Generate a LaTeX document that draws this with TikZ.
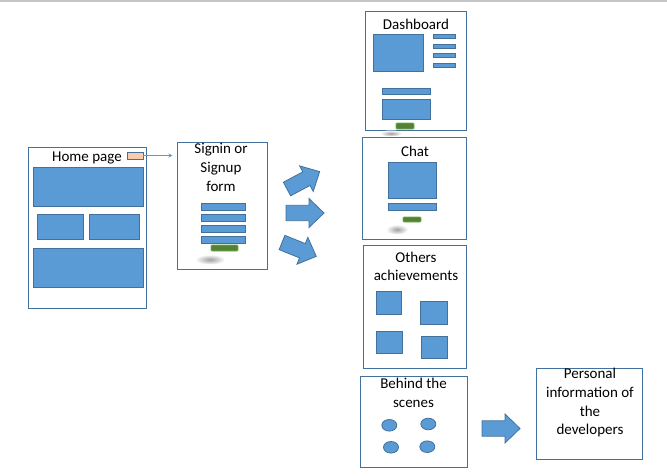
\documentclass[tikz,border=0pt]{standalone}
\usepackage{fontspec}
\setmainfont{Carlito}
\usetikzlibrary{arrows.meta,shapes.geometric}
\definecolor{mblue}{HTML}{5B9BD5}
\definecolor{mborder}{HTML}{41719C}
\definecolor{mgreen}{HTML}{548235}
\definecolor{mlgreen}{HTML}{70AD47}
\definecolor{mpeach}{HTML}{F8CBAD}
\tikzset{
  frame/.style={draw=mborder, line width=1.0, fill=white},
  blk/.style={draw=mborder, line width=0.8, fill=mblue},
  btn/.style={draw=mlgreen, line width=0.8, fill=mgreen, rounded corners=1},
  peach/.style={draw=mborder, line width=0.8, fill=mpeach},
  lbl/.style={inner sep=0, font=\fontsize{15}{18.7}\selectfont, align=center},
  barrow/.style={draw=mborder, line width=0.8, fill=mblue},
  dot/.style={draw=mborder, line width=0.8, fill=mblue, ellipse, inner sep=0},
}
\newcommand\mkrect[6]{\node[#6, anchor=north west, inner sep=0, outer sep=0,
  minimum width={#4-#2}, minimum height={#5-#3}] (#1) at (#2,#3) {};}
\newcommand\smudge[4]{\shade[inner color=gray!75, outer color=white] (#1,#2) ellipse [x radius=#3, y radius=#4];}
\newcommand\blockarrow[4]{\draw[barrow, shift={(#1,#2)}, rotate=#3]
  (0,-7.7) -- ({#4-15},-7.7) -- ({#4-15},-14.5) -- (#4,0) -- ({#4-15},14.5) -- ({#4-15},7.7) -- (0,7.7) -- cycle;}
\begin{document}
\begin{tikzpicture}[x=1pt, y=-1pt]
\useasboundingbox (0,0) rectangle (667,475);
\draw[gray!45, line width=1.6] (0,1) -- (667,1);

% Home page
\mkrect{home}{28}{147}{146}{308}{frame}
\node[lbl, anchor=base] (homelbl) at (87,161) {Home page};
\mkrect{peachbtn}{127}{152}{143}{159}{peach}
\mkrect{h1}{33}{167}{143}{206}{blk}
\mkrect{h2}{37}{214}{83}{239}{blk}
\mkrect{h3}{89}{214}{139}{239}{blk}
\mkrect{h4}{33}{248}{143}{287}{blk}

% Signin
\mkrect{signin}{177}{142}{267}{269}{frame}
\node[lbl, anchor=north] (signinlbl) at (221,142.5) {\rule{0pt}{11pt}Signin or\\Signup\\form};
\mkrect{s1}{201}{203}{245}{210}{blk}
\mkrect{s2}{201}{214}{245}{221}{blk}
\mkrect{s3}{201}{225}{245}{232}{blk}
\mkrect{s4}{201}{236}{245}{243}{blk}
\mkrect{sbtn}{211}{245}{238}{251}{btn}
\smudge{210}{259.5}{15}{5}

\draw[mblue, line width=0.8, -{Stealth[length=4pt,width=4pt]}, shorten >=4.5pt] (peachbtn.east) -- (peachbtn.east -| signin.west);

% Dashboard
\mkrect{dash}{365}{11}{466}{130}{frame}
\node[lbl, anchor=base] (dashlbl) at (416,29.3) {Dashboard};
\mkrect{d1}{373}{34}{423}{71}{blk}
\mkrect{d2}{433}{34}{455}{38.5}{blk}
\mkrect{d3}{433}{44}{455}{48}{blk}
\mkrect{d4}{433}{53}{455}{57}{blk}
\mkrect{d5}{433}{63}{455}{67}{blk}
\mkrect{d6}{382}{88}{430}{94}{blk}
\mkrect{d7}{382}{99}{430}{119.5}{blk}
\mkrect{dbtn}{396}{123}{414}{129}{btn}

% Chat
\mkrect{chat}{362}{137}{466}{239}{frame}
\smudge{391}{133.5}{11}{3}
\node[lbl, anchor=base] (chatlbl) at (415,156) {Chat};
\mkrect{c1}{388}{162}{436}{198}{blk}
\mkrect{c2}{388}{203}{436}{210}{blk}
\mkrect{cbtn}{403}{217}{421}{222}{btn}
\smudge{397}{229.5}{11}{5}

% Others achievements
\mkrect{others}{363}{245}{466}{368}{frame}
\node[lbl, anchor=north] (otherslbl) at (416,250.8) {\rule{0pt}{11pt}Others\\achievements};
\mkrect{o1}{376}{291}{401}{314}{blk}
\mkrect{o2}{420}{301}{447}{324}{blk}
\mkrect{o3}{376}{331}{402}{353}{blk}
\mkrect{o4}{421}{336}{447}{358}{blk}

% Behind the scenes
\mkrect{behind}{360}{376}{467}{467}{frame}
\node[lbl, anchor=north] (behindlbl) at (413.5,377.5) {\rule{0pt}{11pt}Behind the\\scenes};
\node[dot, minimum width=15, minimum height=11.6] (e1) at (389.3,425.3) {};
\node[dot, minimum width=15, minimum height=11.6] (e2) at (428.3,424) {};
\node[dot, minimum width=15, minimum height=11.6] (e3) at (391,447.3) {};
\node[dot, minimum width=15, minimum height=11.6] (e4) at (427.3,446.7) {};

% Personal information
\mkrect{personal}{536}{368}{642}{459}{frame}
\node[lbl, anchor=north] (personallbl) at (590,367.5) {\rule{0pt}{11pt}Personal\\information of\\the\\developers};

% Block arrows
\blockarrow{287}{189}{28}{37}
\blockarrow{286}{213}{0}{38}
\blockarrow{282}{242.5}{-22}{37}
\blockarrow{482}{428.5}{0}{38}
\end{tikzpicture}
\end{document}
